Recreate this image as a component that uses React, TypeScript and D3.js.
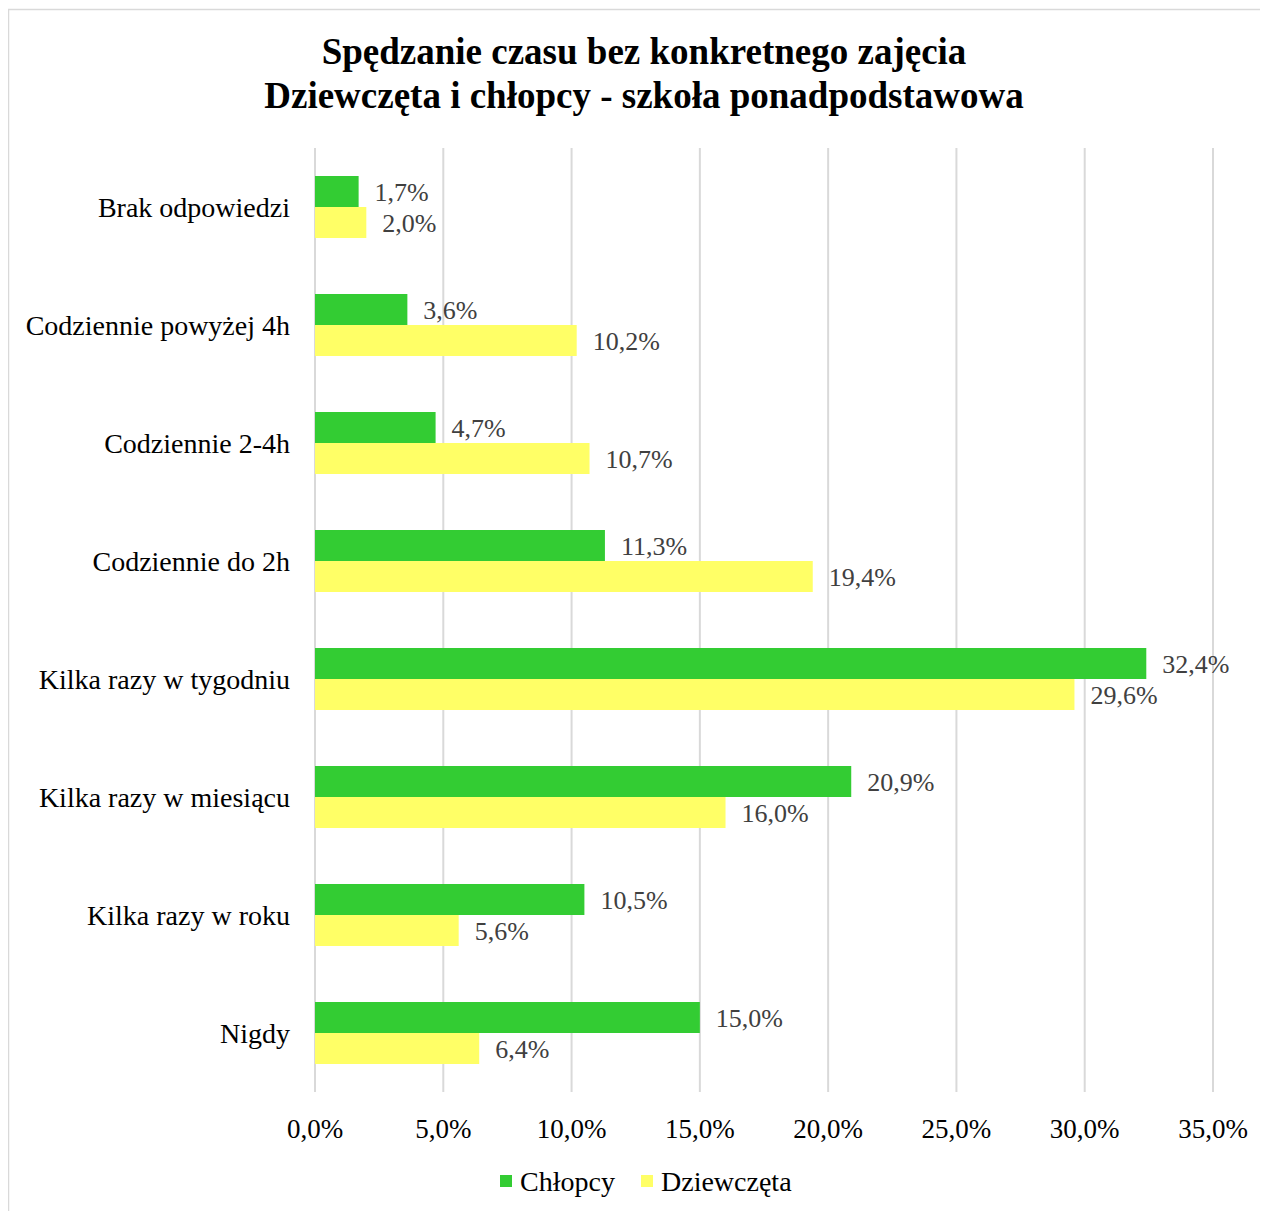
import React from "react";
import * as d3 from "d3";

const categories = [
  "Brak odpowiedzi",
  "Codziennie powyżej 4h",
  "Codziennie 2-4h",
  "Codziennie do 2h",
  "Kilka razy w tygodniu",
  "Kilka razy w miesiącu",
  "Kilka razy w roku",
  "Nigdy",
];
const chlopcy = [1.7, 3.6, 4.7, 11.3, 32.4, 20.9, 10.5, 15.0];
const dziewczeta = [2.0, 10.2, 10.7, 19.4, 29.6, 16.0, 5.6, 6.4];
const seriesNames = ["Chłopcy", "Dziewczęta"];
const seriesColors = ["#33CC33", "#FFFF66"];
const ticks = [0, 5, 10, 15, 20, 25, 30, 35];
const titleLines = [
  "Spędzanie czasu bez konkretnego zajęcia",
  "Dziewczęta i chłopcy - szkoła ponadpodstawowa",
];

const fmt = (v: number) => v.toFixed(1).replace(".", ",") + "%";
const FONT = "'Liberation Serif', 'Times New Roman', serif";

export default function App() {
  const W = 1260;
  const H = 1203;
  const left = 315;
  const right = 1213;
  const top = 148;
  const bottom = 1092;

  const x = d3.scaleLinear().domain([0, 35]).range([left, right]);
  const y = d3.scaleBand<string>().domain(categories).range([top, bottom]).padding(0);
  const barH = 31;

  const series = [chlopcy, dziewczeta];

  return (
    <svg width={W} height={H} style={{ display: "block" }} fontFamily={FONT}>
      <g transform="translate(-8,-8)">
        <rect x={8.5} y={9.5} width={1400} height={1400} fill="#fff" stroke="#d9d9d9" strokeWidth={1.5} />
        {titleLines.map((t, i) => (
          <text key={i} x={644} y={64 + i * 44} textAnchor="middle" fontSize={37} fontWeight="bold" fill="#000">
            {t}
          </text>
        ))}
        {ticks.map((t) => (
          <line key={"g" + t} x1={x(t)} x2={x(t)} y1={top} y2={bottom} stroke="#d9d9d9" strokeWidth={2} />
        ))}
        {categories.map((c, i) => {
          const cy = (y(c) as number) + y.bandwidth() / 2;
          return (
            <g key={c}>
              {series.map((s, k) => {
                const by = cy - barH + k * barH;
                return (
                  <g key={k}>
                    <rect x={x(0)} y={by} width={x(s[i]) - x(0)} height={barH} fill={seriesColors[k]} />
                    <text x={x(s[i]) + 16} y={by + barH / 2} dy="0.35em" fontSize={26} fill="#404040">
                      {fmt(s[i])}
                    </text>
                  </g>
                );
              })}
              <text x={290} y={cy} dy="0.35em" textAnchor="end" fontSize={28} fill="#000">
                {c}
              </text>
            </g>
          );
        })}
        {ticks.map((t) => (
          <text key={"t" + t} x={x(t)} y={1138} textAnchor="middle" fontSize={27} fill="#000">
            {fmt(t)}
          </text>
        ))}
        {seriesNames.map((n, k) => {
          const lx = [500, 641][k];
          return (
            <g key={n}>
              <rect x={lx} y={1175} width={12} height={12} fill={seriesColors[k]} />
              <text x={lx + 20} y={1191} fontSize={28} fill="#000">
                {n}
              </text>
            </g>
          );
        })}
      </g>
    </svg>
  );
}
